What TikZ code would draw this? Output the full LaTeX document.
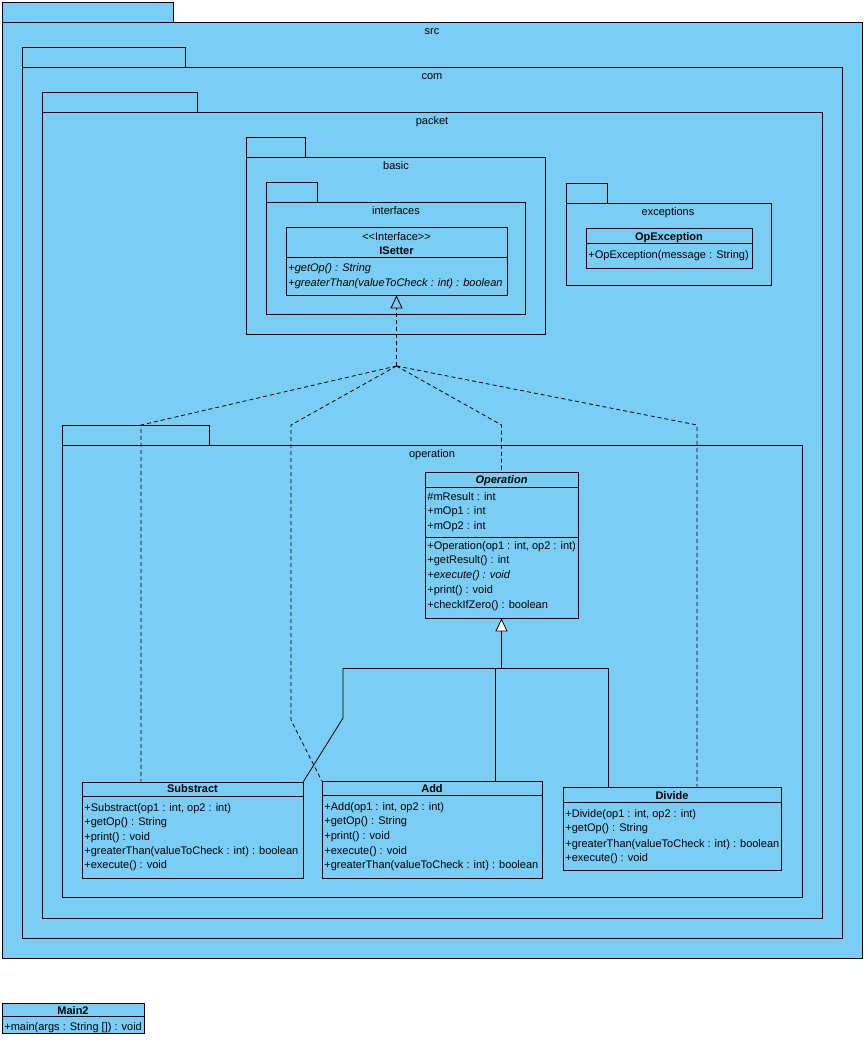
\documentclass[tikz,border=0pt]{standalone}
\usepackage{fontspec}
\setmainfont{Liberation Sans}
\usetikzlibrary{arrows.meta,fit}
\definecolor{vpblue}{RGB}{122,205,245}
\newcommand{\lt}{\textless\kern0pt}
\newcommand{\gt}{\textgreater\kern0pt}
\begin{document}
\begin{tikzpicture}[x=1pt,y=-1pt,line width=0.8pt,
  font=\fontsize{11}{13}\selectfont,
  box/.style={draw,fill=vpblue,inner sep=0pt},
  pkglbl/.style={inner sep=0pt,anchor=base,yshift=-4pt},
  mem/.style={inner sep=0pt,anchor=base west,yshift=-4pt},
  cname/.style={inner sep=0pt,anchor=base,yshift=-4pt,font=\fontsize{11}{13}\selectfont\bfseries},
  dashline/.style={dash pattern=on 4pt off 3pt},
  realize/.style={dashline,-{Triangle[open,length=13pt,width=12pt]}},
  general/.style={-{Triangle[open,fill=white,length=13pt,width=12pt]}}]
\useasboundingbox (0,0) rectangle (866,1047);
% packages
\node[box,fit={(2,2)(173,22)}] (srctab) {};
\node[box,fit={(2,22)(862,958)}] (src) {};
\node[pkglbl] (srclbl) at (432,30) {src};
\node[box,fit={(22,47)(185,67)}] (comtab) {};
\node[box,fit={(22,67)(842,938)}] (com) {};
\node[pkglbl] (comlbl) at (432,75) {com};
\node[box,fit={(42,92)(197,112)}] (packettab) {};
\node[box,fit={(42,112)(822,918)}] (packet) {};
\node[pkglbl] (packetlbl) at (432,120) {packet};
\node[box,fit={(246,137)(305,157)}] (basictab) {};
\node[box,fit={(246,157)(545,334)}] (basic) {};
\node[pkglbl] (basiclbl) at (396,165) {basic};
\node[box,fit={(266,182)(317,202)}] (interfacestab) {};
\node[box,fit={(266,202)(525,314)}] (interfaces) {};
\node[pkglbl] (interfaceslbl) at (396,210) {interfaces};
\node[box,fit={(566,183)(607,203)}] (exceptionstab) {};
\node[box,fit={(566,203)(771,285)}] (exceptions) {};
\node[pkglbl] (exceptionslbl) at (668,211) {exceptions};
\node[box,fit={(62,425)(209,445)}] (operationtab) {};
\node[box,fit={(62,445)(802,897)}] (operationpkg) {};
\node[pkglbl] (operationlbl) at (432,453) {operation};
% ISetter
\node[box,fit={(286,227)(507,295)}] (isetter) {};
\draw (286,257) -- (507,257);
\node[pkglbl] (isetterst) at (396.5,236) {\lt\lt Interface\gt\gt};
\node[cname] (isettername) at (396.5,250) {ISetter};
\node[mem] (is1) at (288,267) {\itshape +getOp() : String};
\node[mem] (is2) at (288,282) {\itshape +greaterThan(valueToCheck : int) : boolean};
% OpException
\node[box,fit={(586,228)(752,268)}] (opexc) {};
\draw (586,243) -- (752,243);
\node[cname] (opexcname) at (669,236) {OpException};
\node[mem] (oe1) at (588,254) {+OpException(message : String)};
% Operation
\node[box,fit={(425,472)(578,618)}] (operation) {};
\draw (425,487) -- (578,487);
\draw (425,537) -- (578,537);
\node[cname,font=\fontsize{11}{13}\selectfont\bfseries\itshape] (operationname) at (501.5,479) {Operation};
\node[mem] (o1) at (427,496) {\#mResult : int};
\node[mem] (o2) at (427,510) {+mOp1 : int};
\node[mem] (o3) at (427,525) {+mOp2 : int};
\node[mem] (o4) at (427,545) {+Operation(op1 : int, op2 : int)};
\node[mem] (o5) at (427,559) {+getResult() : int};
\node[mem] (o6) at (427,574) {\itshape +execute() : void};
\node[mem] (o7) at (427,589) {+print() : void};
\node[mem] (o8) at (427,604) {+checkIfZero() : boolean};
% Substract
\node[box,fit={(82,782)(303,878)}] (substract) {};
\draw (82,796) -- (303,796);
\node[cname] (substractname) at (192.5,788.5) {Substract};
\node[mem] (s1) at (84,807) {+Substract(op1 : int, op2 : int)};
\node[mem] (s2) at (84,821) {+getOp() : String};
\node[mem] (s3) at (84,836) {+print() : void};
\node[mem] (s4) at (84,850) {+greaterThan(valueToCheck : int) : boolean};
\node[mem] (s5) at (84,864) {+execute() : void};
% Add
\node[box,fit={(322,781)(542,878)}] (add) {};
\draw (322,795) -- (542,795);
\node[cname] (addname) at (432,788) {Add};
\node[mem] (a1) at (324,806) {+Add(op1 : int, op2 : int)};
\node[mem] (a2) at (324,820) {+getOp() : String};
\node[mem] (a3) at (324,835) {+print() : void};
\node[mem] (a4) at (324,850) {+execute() : void};
\node[mem] (a5) at (324,864) {+greaterThan(valueToCheck : int) : boolean};
% Divide
\node[box,fit={(563,787)(781,870)}] (divide) {};
\draw (563,802) -- (781,802);
\node[cname] (dividename) at (672,795) {Divide};
\node[mem] (d1) at (565,813) {+Divide(op1 : int, op2 : int)};
\node[mem] (d2) at (565,827) {+getOp() : String};
\node[mem] (d3) at (565,843) {+greaterThan(valueToCheck : int) : boolean};
\node[mem] (d4) at (565,857) {+execute() : void};
% Main2
\node[box,fit={(2,1003)(144,1033)}] (main2) {};
\draw (2,1016) -- (144,1016);
\node[cname] (main2name) at (73,1010) {Main2};
\node[mem] (m1) at (4,1026) {\underline{+main(args : String []) : void}};
% realization
\coordinate (rj) at (396.5,366);
\coordinate (r1) at (141,425);
\coordinate (r2) at (291,425);
\coordinate (r2b) at (291,720);
\coordinate (r3) at (501.5,425);
\coordinate (r4) at (697,425);
\draw[realize] (rj) -- (isetter.south);
\draw[dashline] (rj) -- (r1) -- (r1 |- substract.north);
\draw[dashline] (rj) -- (r2) -- (r2b) -- (add.north west);
\draw[dashline] (rj) -- (r3) -- (operation.north);
\draw[dashline] (rj) -- (r4) -- (r4 |- divide.north);
% generalization
\coordinate (g0) at (501.5,668);
\coordinate (gL) at (343,668);
\coordinate (gL2) at (343,718);
\coordinate (gM) at (495,668);
\coordinate (gR) at (608,668);
\draw[general] (g0) -- (operation.south);
\draw (gL) -- (gR);
\draw (gL) -- (gL2) -- (substract.north east);
\draw (gM) -- (gM |- add.north);
\draw (gR) -- (gR |- divide.north);
\end{tikzpicture}
\end{document}
